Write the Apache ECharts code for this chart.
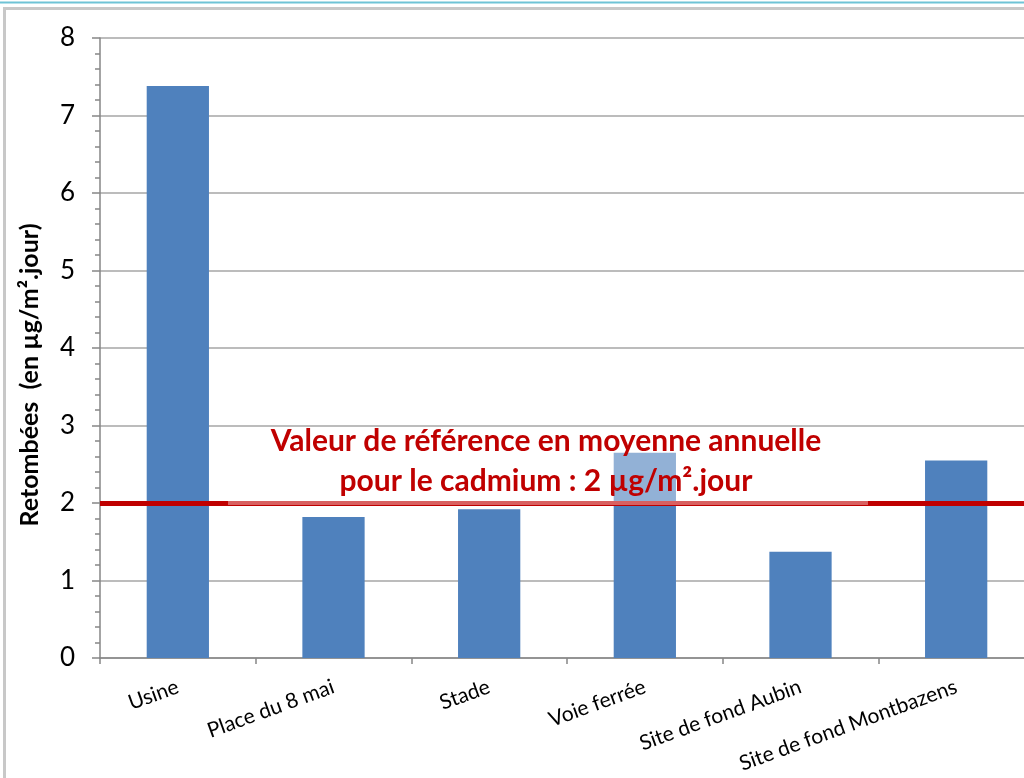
<!DOCTYPE html>
<html lang="fr">

<head>
    <meta charset="UTF-8">
    <script src="https://cdn.jsdelivr.net/npm/echarts@6/dist/echarts.min.js"></script>
    <title>Retombées cadmium</title>
    <style>
        html,
        body {
            height: 100%;
        }

        * {
            padding: 0;
            margin: 0;
        }
    </style>
</head>

<body>
    <div id="chart" style="width: 1024px;height: 778px;"></div>
    <script>
        // sites de mesure
        var categories = ['Usine', 'Place du 8 mai', 'Stade', 'Voie ferrée', 'Site de fond Aubin', 'Site de fond Montbazens'];
        // retombées en µg/m².jour
        var retombees = [7.38, 1.82, 1.92, 2.65, 1.37, 2.55];
        // valeur de référence annuelle
        var valeurReference = 2;
        var yMin = 0, yMax = 8, yInterval = 1;
        var refText = 'Valeur de référence en moyenne annuelle\npour le cadmium : 2 µg/m².jour';

        var font = 'Lato, "Open Sans", sans-serif';
        var myChart = echarts.init(document.getElementById('chart'));

        var option = {
            backgroundColor: '#ffffff',
            animation: false,
            grid: {
                left: 100,
                top: 38,
                bottom: 120,
                right: -10,
                containLabel: false,
                outerBoundsMode: 'none'
            },
            xAxis: {
                type: 'category',
                data: categories,
                axisLine: { lineStyle: { color: '#868686', width: 1.5 } },
                axisTick: { show: true, length: 6, lineStyle: { color: '#868686', width: 1.5 } },
                axisLabel: {
                    rotate: 20,
                    margin: 28,
                    fontFamily: font,
                    fontSize: 21,
                    color: '#000000',
                    interval: 0
                }
            },
            yAxis: {
                type: 'value',
                min: yMin,
                max: yMax,
                interval: yInterval,
                name: 'Retombées  (en µg/m².jour)',
                nameLocation: 'middle',
                nameGap: 58,
                nameTextStyle: {
                    fontFamily: font,
                    fontWeight: 'bold',
                    fontSize: 25,
                    color: '#000000',
                    padding: [0, 54, 0, 0]
                },
                axisLine: { show: true, lineStyle: { color: '#868686', width: 1.5 } },
                axisTick: { show: true, length: 8, lineStyle: { color: '#868686', width: 1.5 } },
                minorTick: { show: true, splitNumber: 5, length: 5, lineStyle: { color: '#868686', width: 1.5 } },
                axisLabel: {
                    fontFamily: font,
                    fontSize: 26,
                    color: '#000000',
                    margin: 25
                },
                splitLine: { lineStyle: { color: '#a6a6a6', width: 1.5 } }
            },
            series: [
                {
                    type: 'bar',
                    data: retombees,
                    barWidth: '40%',
                    itemStyle: { color: '#4f81bd' },
                    markLine: {
                        silent: true,
                        symbol: ['none', 'none'],
                        label: { show: false },
                        lineStyle: { color: '#c00000', width: 5, type: 'solid' },
                        data: [{ yAxis: valeurReference }]
                    }
                }
            ],
            graphic: [
                // bordure du cadre
                { type: 'rect', z: 100, shape: { x: 0, y: 1.5, width: 1024, height: 2 }, style: { fill: '#6fc3d6' } },
                { type: 'rect', z: 100, shape: { x: 4.5, y: 8.5, width: 1040, height: 800 }, style: { fill: 'none', stroke: '#c8c8c8', lineWidth: 3 } },
                // zone de texte semi-transparente
                { type: 'rect', z: 100, shape: { x: 228, y: 430, width: 640, height: 75 }, style: { fill: 'rgba(255,255,255,0.38)' } },
                {
                    type: 'text', z: 101, x: 546, y: 421,
                    style: {
                        text: refText,
                        font: 'bold 30px ' + font,
                        fill: '#c00000',
                        align: 'center',
                        verticalAlign: 'top',
                        lineHeight: 40
                    }
                }
            ]
        };
        myChart.setOption(option);
    </script>

</body>

</html>
